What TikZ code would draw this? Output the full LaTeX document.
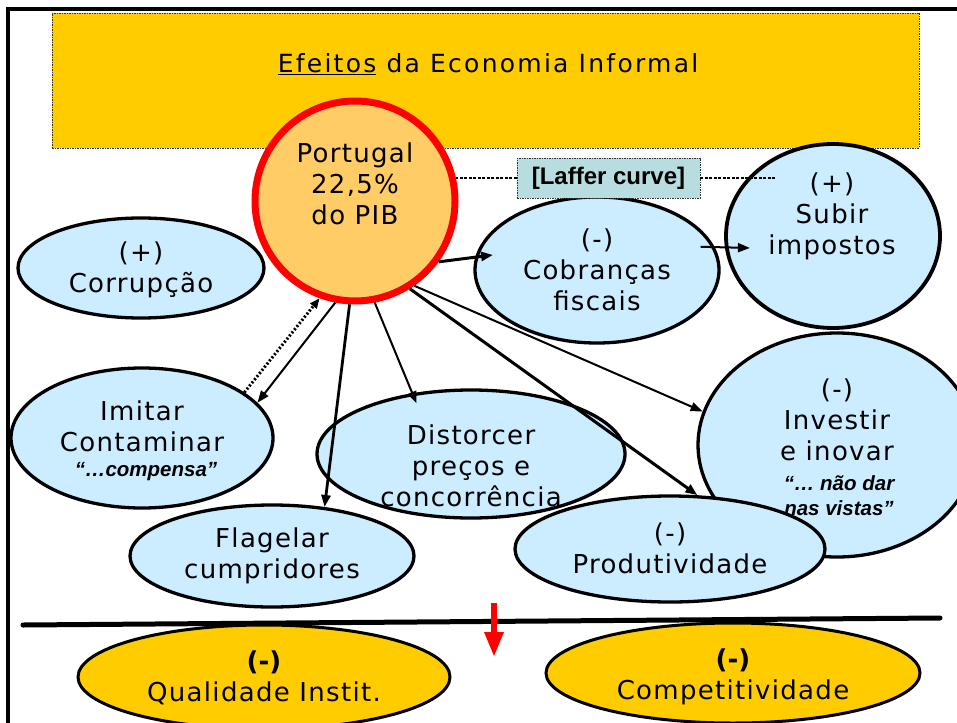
\documentclass[tikz,border=0pt]{standalone}
\usepackage{fontspec}
\setmainfont{DejaVu Sans}
\newfontfamily\mf{DejaVu Sans}[LetterSpace=5]
\newfontfamily\tf{DejaVu Sans}[LetterSpace=9]
\newfontfamily\af{Liberation Sans}
\usetikzlibrary{shapes.geometric,arrows.meta,calc}
\definecolor{gold}{RGB}{255,204,0}
\definecolor{porange}{RGB}{255,204,102}
\definecolor{lblue}{RGB}{204,236,255}
\definecolor{tealbox}{RGB}{183,221,224}
\tikzset{
  bub/.style={ellipse, draw=black, line width=3.3pt, fill=lblue, inner sep=0pt},
  gbub/.style={ellipse, draw=black, line width=3pt, fill=gold, inner sep=0pt},
  txt/.style={font=\mf\fontsize{26}{31}\selectfont, align=center, inner sep=0pt},
  qtxt/.style={font=\af\bfseries\itshape\fontsize{20.5}{25}\selectfont, align=center, inner sep=0pt},
  arr/.style={-{Triangle[length=12pt,width=9pt]}, line width=2pt},
  lafd/.style={line width=1.4pt, dash pattern=on 3pt off 1.5pt},
}
\begin{document}
\begin{tikzpicture}[x=1pt,y=-1pt]
\useasboundingbox (0,0) rectangle (957,722);
\clip (0,0) rectangle (957,722);
% frame
\draw[line width=3.5pt] (8,730) -- (8,9) -- (965,9);
% title box
\node[draw=black!80, line width=0.8pt, dash pattern=on 1.5pt off 1pt, fill=gold,
      minimum width=867pt, minimum height=135pt, inner sep=0pt] (title) at (485.5,80.5) {};
\node[font=\tf\fontsize{25}{30}\selectfont, inner sep=0pt] (titleT) at (488,64) {\underline{Efeitos} da Economia Informal};
% ellipses
\node[bub, minimum width=246pt, minimum height=100pt] (corr) at (141,268) {};
\node[bub, minimum width=244pt, minimum height=146pt] (cob) at (597,270) {};
\node[bub, line width=3.8pt, minimum width=214pt, minimum height=184pt] (sub) at (833,236) {};
\node[bub, minimum width=262pt, minimum height=140pt] (imi) at (142,438) {};
\node[bub, minimum width=284pt, minimum height=102pt] (fla) at (272,556) {};
\node[bub, minimum width=308pt, minimum height=128pt] (dis) at (471,454) {};
\node[bub, minimum width=278pt, minimum height=224pt] (inv) at (837,445) {};
\node[circle, draw=red, line width=7pt, fill=porange, minimum size=200pt, inner sep=0pt] (port) at (355,201) {};
% laffer box
\node[draw=black!80, line width=0.8pt, dash pattern=on 1.5pt off 1pt, fill=tealbox,
      minimum width=183pt, minimum height=40pt, inner sep=0pt,
      font=\af\bfseries\fontsize{24}{28}\selectfont] (laf) at (608.5,178) {[Laffer curve]};
\coordinate (lafend) at (775,178);
\draw[lafd] (laf.west) -- (laf.west -| port.13);
\draw[lafd] (laf.east) -- (lafend);
% texts
\node[txt] (portT) at (355,184) {Portugal\\22,5\%\\do PIB};
\node[txt] (corrT) at (141,270) {(+)\\Corrupção};
\node[txt] (cobT) at (597,270) {(-)\\Cobranças\\fiscais};
\node[txt] (subT) at (832,216) {(+)\\Subir\\impostos};
\node[txt] (imiT) at (142,426) {Imitar\\Contaminar};
\node[qtxt] (imiQ) at (146,472) {“…compensa”};
\node[txt] (flaT) at (272,556) {Flagelar\\cumpridores};
\node[txt] (disT) at (471,466) {Distorcer\\preços e\\concorrência};
\node[txt] (invT) at (837,420) {(-)\\Investir\\e inovar};
\node[qtxt] (invQ) at (839,496) {“… não dar\\nas vistas”};
% produtividade on top
\node[bub, minimum width=310pt, minimum height=106pt] (prod) at (670,549) {};
\node[txt] (prodT) at (670,548) {(-)\\Produtividade};
% arrows
\draw[arr, line width=3pt, shorten >=-18pt] (port.-36) -- (cob.174);
\draw[arr] (port.-55) -- (inv.166);
\draw[arr, line width=3pt] (port.-58) -- (prod.63);
\draw[arr, shorten >=-11pt] (port.-79) -- (dis.134);
\draw[arr, line width=2.8pt] (port.-93) -- (fla.43);
\draw[arr] (port.-101) -- (imi.17);
\draw[-{Triangle[length=10pt,width=8pt]}, line width=3pt, dash pattern=on 2pt off 2pt] (imi.24) -- (port.-110);
\draw[arr, shorten <=-14pt, shorten >=-25pt] (cob.11) -- (sub.-174);
% separator
\coordinate (hl) at (23,625);
\coordinate (hr) at (940,618);
\draw[line width=5pt, line cap=round] (hl) -- (hr);
% bottom ellipses
\node[gbub, minimum width=372pt, minimum height=104pt] (qual) at (264,677) {};
\node[gbub, minimum width=374pt, minimum height=100pt] (comp) at (733,673) {};
\node[txt] (qualT) at (264,678) {{\setmainfont{DejaVu Sans}\bfseries (-)}\\Qualidade Instit.};
\node[txt] (compT) at (733,677) {{\setmainfont{DejaVu Sans}\bfseries (-)}\\Competitividade};
% red arrow
\coordinate (rtop) at (494,603);
\coordinate (rbot) at (494,657);
\draw[red, line width=6pt, -{Triangle[length=25pt,width=18pt]}] (rtop) -- (rbot);
\end{tikzpicture}
\end{document}
